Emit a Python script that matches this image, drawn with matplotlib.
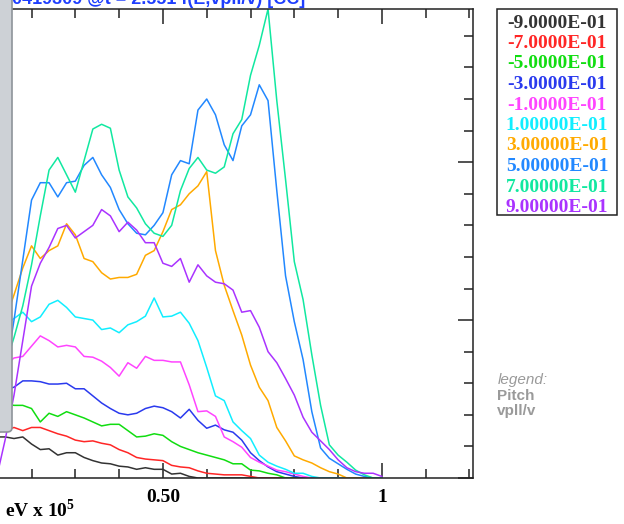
import matplotlib
matplotlib.use("Agg")
from matplotlib import pyplot as plt
from matplotlib.patches import Rectangle, FancyBboxPatch
from matplotlib.ticker import FixedLocator, FixedFormatter, MultipleLocator

plt.rcParams['mathtext.fontset'] = 'custom'
plt.rcParams['mathtext.rm'] = 'Liberation Serif:bold'

# energy grid (eV x 10^5)
energy = [0.10, 0.12, 0.14, 0.16, 0.18, 0.20, 0.22, 0.24, 0.26, 0.28,
          0.30, 0.32, 0.34, 0.36, 0.38, 0.40, 0.42, 0.44, 0.46, 0.48,
          0.50, 0.52, 0.54, 0.56, 0.58, 0.60, 0.62, 0.64, 0.66, 0.68,
          0.70, 0.72, 0.74, 0.76, 0.78, 0.80, 0.82, 0.84, 0.86, 0.88,
          0.90, 0.92, 0.94, 0.96, 0.98, 1.00]

pitch_labels = ['-9.0000E-01', '-7.0000E-01', '-5.0000E-01', '-3.0000E-01', '-1.0000E-01',
                '1.00000E-01', '3.00000E-01', '5.00000E-01', '7.00000E-01', '9.00000E-01']
pitch_colors = ['#333333', '#ff2626', '#11dd11', '#2a3aee', '#ff44ff',
                '#11eeff', '#ffaa00', '#2288ff', '#11e8a0', '#aa33ff']

f_m09 = [0.26, 0.26, 0.26, 0.25, 0.26, 0.215, 0.18, 0.185, 0.145, 0.16,
         0.16, 0.13, 0.11, 0.095, 0.09, 0.075, 0.07, 0.055, 0.065, 0.055,
         0.055, 0.025, 0.03, 0.01, 0, 0, 0, 0, 0, 0,
         0, 0, 0, 0, 0, 0, 0, 0, 0, 0,
         0, 0, 0, 0, 0, 0]
f_m07 = [0.27, 0.29, 0.30, 0.32, 0.30, 0.32, 0.32, 0.30, 0.28, 0.265,
         0.24, 0.23, 0.235, 0.22, 0.21, 0.18, 0.16, 0.13, 0.12, 0.115,
         0.11, 0.08, 0.07, 0.065, 0.045, 0.03, 0.025, 0.02, 0.02, 0.02,
         0.01, 0, 0, 0, 0, 0, 0, 0, 0, 0,
         0, 0, 0, 0, 0, 0]
f_m05 = [0.47, 0.47, 0.47, 0.46, 0.46, 0.44, 0.355, 0.41, 0.39, 0.42,
         0.40, 0.38, 0.355, 0.33, 0.34, 0.34, 0.30, 0.26, 0.265, 0.28,
         0.27, 0.23, 0.20, 0.18, 0.16, 0.145, 0.13, 0.115, 0.09, 0.09,
         0.05, 0.045, 0.03, 0.02, 0, 0, 0, 0, 0, 0,
         0, 0, 0, 0, 0, 0]
f_m03 = [0.47, 0.525, 0.56, 0.575, 0.615, 0.615, 0.61, 0.595, 0.595, 0.60,
         0.565, 0.565, 0.52, 0.475, 0.44, 0.41, 0.40, 0.41, 0.44, 0.455,
         0.445, 0.42, 0.38, 0.435, 0.365, 0.315, 0.335, 0.305, 0.29, 0.24,
         0.16, 0.11, 0.07, 0.04, 0.025, 0.01, 0, 0, 0, 0,
         0, 0, 0, 0, 0, 0]
f_m01 = [0.62, 0.68, 0.715, 0.76, 0.77, 0.835, 0.90, 0.87, 0.83, 0.84,
         0.83, 0.77, 0.765, 0.74, 0.70, 0.645, 0.73, 0.695, 0.77, 0.745,
         0.745, 0.735, 0.735, 0.59, 0.42, 0.425, 0.39, 0.26, 0.23, 0.195,
         0.13, 0.10, 0.075, 0.05, 0.04, 0.025, 0.01, 0, 0, 0,
         0, 0, 0, 0, 0, 0]
f_p01 = [0.78, 0.885, 0.97, 1.01, 1.05, 0.99, 1.02, 1.10, 1.125, 1.08,
         1.02, 1.01, 1.00, 0.94, 0.95, 0.92, 0.97, 0.99, 1.025, 1.14,
         1.02, 1.025, 1.05, 0.98, 0.87, 0.70, 0.52, 0.49, 0.355, 0.30,
         0.25, 0.145, 0.10, 0.075, 0.055, 0.03, 0.03, 0.01, 0, 0,
         0, 0, 0, 0, 0, 0]
f_p03 = [0.68, 0.84, 1.00, 1.16, 1.33, 1.47, 1.39, 1.44, 1.47, 1.61,
         1.54, 1.39, 1.37, 1.30, 1.26, 1.27, 1.27, 1.29, 1.41, 1.44,
         1.56, 1.70, 1.73, 1.80, 1.85, 1.94, 1.44, 1.22, 1.06, 0.905,
         0.715, 0.575, 0.49, 0.32, 0.235, 0.14, 0.115, 0.095, 0.065, 0.04,
         0.025, 0, 0, 0, 0, 0]
f_p05 = [0.25, 0.45, 0.66, 1.00, 1.38, 1.76, 1.87, 1.87, 1.78, 1.87,
         1.88, 1.98, 2.03, 1.92, 1.84, 1.70, 1.61, 1.55, 1.54, 1.60,
         1.68, 1.92, 2.01, 1.99, 2.33, 2.40, 2.30, 2.11, 2.01, 2.23,
         2.30, 2.49, 2.39, 1.82, 1.28, 0.99, 0.75, 0.42, 0.19, 0.125,
         0.09, 0.055, 0.025, 0.01, 0, 0]
f_p07 = [0.42, 0.56, 0.715, 0.89, 1.09, 1.35, 1.66, 1.95, 2.03, 1.92,
         1.81, 2.01, 2.21, 2.24, 2.215, 1.95, 1.78, 1.71, 1.61, 1.55,
         1.53, 1.60, 1.82, 1.96, 2.03, 1.95, 1.93, 1.97, 2.18, 2.27,
         2.55, 2.74, 2.97, 2.39, 1.89, 1.37, 1.13, 0.78, 0.46, 0.21,
         0.145, 0.10, 0.05, 0.02, 0, 0]
f_p09 = [0.0, 0.0, 0.245, 0.525, 0.87, 1.215, 1.36, 1.46, 1.58, 1.60,
         1.52, 1.56, 1.60, 1.70, 1.66, 1.56, 1.62, 1.57, 1.49, 1.49,
         1.36, 1.34, 1.39, 1.24, 1.35, 1.28, 1.24, 1.23, 1.19, 1.05,
         1.06, 0.955, 0.80, 0.73, 0.63, 0.525, 0.385, 0.29, 0.235, 0.18,
         0.115, 0.065, 0.04, 0.03, 0.03, 0.01]

series = [f_m09, f_m07, f_m05, f_m03, f_m01, f_p01, f_p03, f_p05, f_p07, f_p09]

W, H = 624, 524


def fx(px):
    return px / W


def fy(py):
    return 1 - py / H


serif = 'Liberation Serif'
sans = 'Liberation Sans'

fig = plt.figure(figsize=(6.24, 5.24), dpi=100)
ax = fig.add_axes([fx(0), fy(478), fx(473), (478 - 9) / H])

for vals, col in zip(series, pitch_colors):
    ax.plot(energy, vals, color=col, lw=1.1)

ax.set_xlim(0.128, 1.208)
ax.set_ylim(0, 2.97)

ax.spines['left'].set_visible(False)
for s in ['top', 'right', 'bottom']:
    ax.spines[s].set_linewidth(1.1)
    ax.spines[s].set_color('#222222')

ax.xaxis.set_major_locator(FixedLocator([0.5, 1.0]))
ax.xaxis.set_major_formatter(FixedFormatter(['0.50', '1']))
ax.xaxis.set_minor_locator(MultipleLocator(0.1))
ax.yaxis.set_major_locator(MultipleLocator(1.0))
ax.yaxis.set_minor_locator(MultipleLocator(0.2))

ax.tick_params(axis='x', which='both', direction='in', top=True, bottom=True,
               color='#222222', pad=8)
ax.tick_params(axis='y', which='both', direction='in', left=False, right=True,
               labelleft=False, labelright=False, color='#222222')
ax.tick_params(which='major', length=10.5, width=1.1)
ax.tick_params(which='minor', length=6.5, width=1.1)
for lbl in ax.get_xticklabels():
    lbl.set_fontfamily(serif)
    lbl.set_fontweight('bold')
    lbl.set_fontsize(14)

fig.text(fx(5), fy(510), r'eV x 10$^{5}$', family=serif, fontweight='bold',
         fontsize=14, ha='left', va='center')

# title, mostly cut off by the top edge
fig.text(fx(12), fy(4), '0419309 @t = 2.551 f(E,vpll/v) [CC]', color='#1f3fff',
         family=sans, fontweight='bold', fontsize=13, ha='left', va='baseline')

# legend box
fig.add_artist(Rectangle((fx(497), fy(215)), fx(120), (215 - 9) / H,
                         transform=fig.transFigure, fill=False,
                         edgecolor='#222222', lw=1.1))
for i, (lab, col) in enumerate(zip(pitch_labels, pitch_colors)):
    fig.text(fx(557), fy(23 + i * 20.5), lab, color=col, family=serif,
             fontweight='bold', fontsize=14, ha='center', va='center')

fig.text(fx(498), fy(380), 'legend:', color='#9a9a9a', family=sans,
         style='italic', fontsize=11, ha='left', va='center')
fig.text(fx(497), fy(396), 'Pitch', color='#9a9a9a', family=sans,
         fontweight='bold', fontsize=11, ha='left', va='center')
fig.text(fx(497), fy(411), 'vpll/v', color='#9a9a9a', family=sans,
         fontweight='bold', fontsize=11, ha='left', va='center')

# side panel overlapping the left of the plot
fig.add_artist(FancyBboxPatch((fx(-10), fy(432)), fx(22), 440 / H,
                              boxstyle='round,pad=0,rounding_size=0.008',
                              transform=fig.transFigure, facecolor='#cdd1d6',
                              edgecolor='#8e949a', lw=1.2, zorder=5))

fig.savefig('out.png', dpi=100)
